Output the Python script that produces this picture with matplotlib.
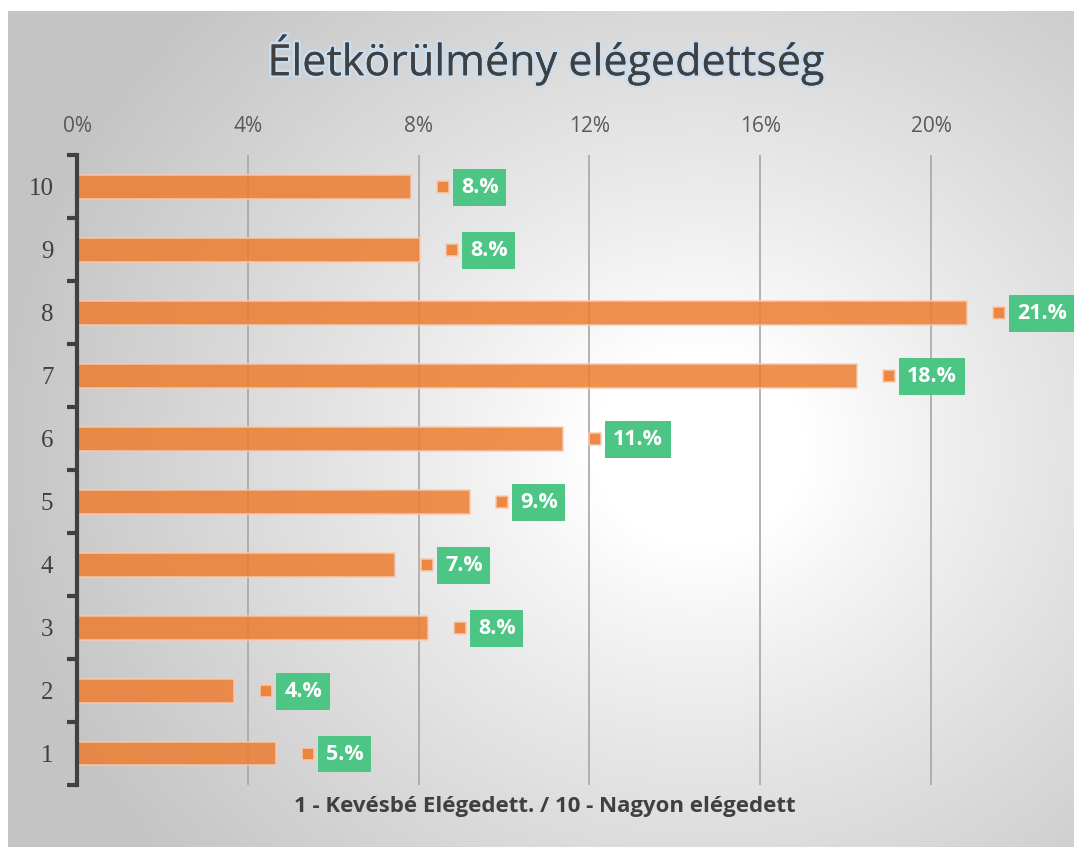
import numpy as np
import matplotlib
matplotlib.use("Agg")
import matplotlib.pyplot as plt
import matplotlib.transforms as mtransforms
import matplotlib.patheffects as pe

categories = ["1", "2", "3", "4", "5", "6", "7", "8", "9", "10"]
values = [0.0466, 0.0368, 0.0822, 0.0745, 0.0920, 0.1138, 0.1827, 0.2084, 0.0803, 0.0782]
xticks = [0.0, 0.04, 0.08, 0.12, 0.16, 0.20]
xtick_labels = ["0%", "4%", "8%", "12%", "16%", "20%"]
title = "Életkörülmény elégedettség"
xlabel = "1 - Kevésbé Elégedett. / 10 - Nagyon elégedett"

W, H = 1074, 847
DPI = 100
fig = plt.figure(figsize=(W / DPI, H / DPI), dpi=DPI)
fig.patch.set_facecolor("white")

# background radial gradient panel
bg = fig.add_axes([8 / W, 0, 1 - 8 / W, 1 - 11 / H])
bg.set_axis_off()
gx = np.linspace(8, W, 400)
gy = np.linspace(11, H, 330)
X, Y = np.meshgrid(gx, gy)
cx, cy = 700, 450
r = np.sqrt((X - cx) ** 2 + ((Y - cy) / 0.9) ** 2)
t = np.clip((r - 110) / 600, 0, 1) ** 0.9
val = 1.0 - t * (1.0 - 0.77)
img = np.dstack([val, val, val])
bg.imshow(img, aspect="auto", extent=[0, 1, 0, 1], origin="upper")
bg.set_xlim(0, 1)
bg.set_ylim(0, 1)

# main axes
xmax = 0.235
left_px, top_px, bot_px = 77, 155.5, 785
px_per_unit = (931 - 77) / 0.20
width_px = xmax * px_per_unit
ax = fig.add_axes([left_px / W, 1 - bot_px / H, width_px / W, (bot_px - top_px) / H])
ax.patch.set_alpha(0)
ax.set_xlim(0, xmax)
ax.set_ylim(0.5, 10.5)

ypos = np.arange(1, len(categories) + 1)
for xv in xticks[1:]:
    ax.axvline(xv, color="#a6a6a6", lw=1.2, zorder=1)

ax.barh(ypos, values, height=0.38, color="#ED7D31", alpha=0.85,
        edgecolor="#F8CBAD", linewidth=1.2, zorder=2)

# small orange markers
trans_m = mtransforms.offset_copy(ax.transData, fig=fig, x=32, y=0, units="dots")
ax.scatter(values, ypos, marker="s", s=80, color="#ED7D31", alpha=0.9,
           edgecolors="#F8CBAD", linewidths=1.2, transform=trans_m, zorder=3, clip_on=False)

# green labels
for v, y in zip(values, ypos):
    ax.annotate(f"{v * 100:.0f}.%", xy=(v, y), xytext=(50 * 0.72, -0.5),
                textcoords="offset points", ha="left", va="center",
                fontsize=15.5, fontweight="bold", color="white", family="Open Sans",
                bbox=dict(boxstyle="square,pad=0.36", fc="#4DC585", ec="none"),
                zorder=4, annotation_clip=False)

ax.set_yticks(ypos)
ax.set_yticklabels(categories, family="Liberation Serif", fontsize=18, color="#404040")
ax.set_yticks(np.arange(0.5, 11.0, 1.0), minor=True)
ax.tick_params(axis="y", which="major", length=0, pad=17)
ax.tick_params(axis="y", which="minor", length=7, width=3, color="#404040", direction="out")

ax.xaxis.tick_top()
ax.set_xticks(xticks)
ax.set_xticklabels(xtick_labels, family="Open Sans", fontsize=15, color="#595959")
ax.tick_params(axis="x", length=0, pad=13)

for s in ["top", "right", "bottom"]:
    ax.spines[s].set_visible(False)
ax.spines["left"].set_color("#404040")
ax.spines["left"].set_linewidth(3)

fig.text(545 / W, 1 - 806 / H, xlabel, ha="center", va="center",
         fontsize=16, fontweight="bold", color="#404040", family="Open Sans")

fig.text(545 / W, 1 - 60 / H, title, ha="center", va="center",
         fontsize=31, color="#404040", family="Open Sans",
         path_effects=[pe.withStroke(linewidth=3.5, foreground="#C9DDF0"), pe.Normal()])

fig.savefig("out.png", dpi=DPI)
